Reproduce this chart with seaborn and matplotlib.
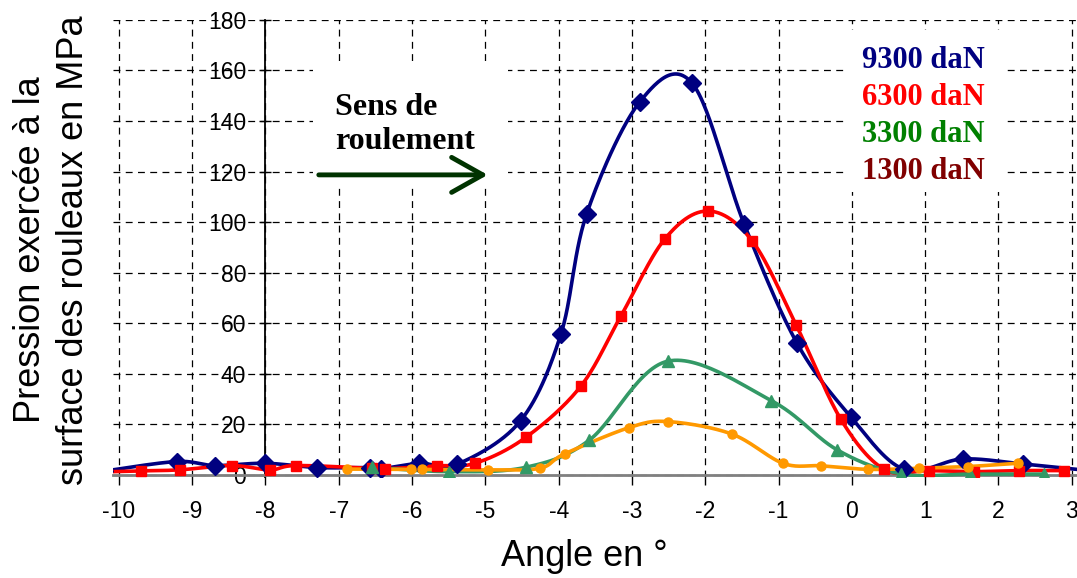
import numpy as np
import pandas as pd
import matplotlib
matplotlib.use("Agg")
import matplotlib.pyplot as plt
from matplotlib.patches import Rectangle
import seaborn as sns

# Pressure on the roller surface vs angle, for four loads
x_9300 = [-10.2, -9.21, -8.69, -8.0, -7.29, -6.58, -6.43, -5.90, -5.38, -4.52, -3.97, -3.62,
          -2.89, -2.18, -1.47, -0.75, -0.01, 0.71, 1.51, 2.34, 3.2]
y_9300 = [1.5, 5.3, 3.7, 4.6, 2.9, 2.9, 2.4, 4.6, 4.3, 21.4, 55.6, 103.1,
          147.7, 155.0, 99.3, 52.2, 22.8, 2.2, 6.3, 4.3, 1.8]

x_6300 = [-10.2, -9.70, -9.17, -8.46, -7.94, -7.58, -6.54, -6.37, -5.66, -5.14, -4.45, -3.70,
          -3.15, -2.55, -1.96, -1.36, -0.76, -0.15, 0.44, 1.05, 1.67, 2.28, 2.90]
y_6300 = [1.2, 1.6, 2.0, 3.7, 2.0, 3.7, 2.6, 2.4, 3.6, 4.6, 14.8, 35.0,
          62.9, 93.4, 104.4, 92.6, 59.3, 22.0, 2.2, 1.7, 1.3, 1.7, 1.7]

x_3300 = [-6.55, -5.50, -4.45, -3.58, -2.51, -1.10, -0.20, 0.67, 1.61, 2.62]
y_3300 = [3.0, 1.3, 3.0, 13.8, 45.0, 29.4, 9.9, 0.4, 0.3, 0.3]

x_1300 = [-6.89, -6.02, -5.86, -4.97, -4.26, -3.92, -3.04, -2.51, -1.64, -0.94, -0.42,
          0.22, 0.92, 1.58, 2.26]
y_1300 = [2.3, 2.2, 2.2, 2.0, 2.6, 8.3, 18.7, 21.1, 16.2, 4.6, 3.6,
          2.2, 2.6, 3.3, 4.6]

loads = ["9300 daN", "6300 daN", "3300 daN", "1300 daN"]
line_colors = ["#000080", "#FF0000", "#339966", "#FF9900"]
label_colors = ["#000080", "#FF0000", "#008000", "#800000"]
markers = ["D", "s", "^", "o"]
marker_sizes = [9, 7.5, 8.5, 6.5]


def smooth(xs, ys, n=30):
    # excel-like smoothed line (bezier through the points)
    pts = np.column_stack([xs, ys])
    out = [pts[0]]
    for i in range(len(pts) - 1):
        p0 = pts[i - 1] if i > 0 else pts[i]
        p1 = pts[i]
        p2 = pts[i + 1]
        p3 = pts[i + 2] if i + 2 < len(pts) else pts[i + 1]
        b1 = p1 + (p2 - p0) / 6
        b2 = p2 - (p3 - p1) / 6
        t = np.linspace(0, 1, n)[1:, None]
        seg = (1 - t) ** 3 * p1 + 3 * (1 - t) ** 2 * t * b1 + 3 * (1 - t) * t ** 2 * b2 + t ** 3 * p2
        out.extend(seg)
    return np.array(out)


sns.set_theme(style="white")
plt.rcParams["font.family"] = ["Liberation Sans", "DejaVu Sans"]
plt.rcParams["axes.unicode_minus"] = False
plt.rcParams["text.color"] = "black"
plt.rcParams["xtick.labelcolor"] = "black"
plt.rcParams["ytick.labelcolor"] = "black"

W, H = 1077, 578
fig = plt.figure(figsize=(W / 100, H / 100), dpi=100)
ax = fig.add_axes([0.1049, 0.174, 0.895, 0.7915])

series = [(x_9300, y_9300), (x_6300, y_6300), (x_3300, y_3300), (x_1300, y_1300)]
for (xs, ys), col, mk, ms in zip(series, line_colors, markers, marker_sizes):
    c = smooth(xs, ys)
    df = pd.DataFrame({"angle": c[:, 0], "pression": c[:, 1]})
    sns.lineplot(data=df, x="angle", y="pression", sort=False, estimator=None,
                 color=col, lw=2.6, ax=ax, legend=False, zorder=3)
    ax.plot(xs, ys, ls="none", marker=mk, ms=ms, color=col, mec=col, zorder=4)

ax.set_xlim(-10.08, 3.07)
ax.set_ylim(-1, 180)
ax.set_xticks(range(-10, 4))
ax.set_yticks(range(0, 181, 20))

ax.grid(True, color="black", lw=0.9, ls=(0, (5.5, 4.3)))
ax.set_axisbelow(True)
for s in ["top", "right"]:
    ax.spines[s].set_visible(False)
ax.spines["left"].set_position(("data", -8))
ax.spines["left"].set_color("black")
ax.spines["left"].set_linewidth(1.3)
ax.spines["bottom"].set_position(("data", 0))
ax.spines["bottom"].set_color("#808080")
ax.spines["bottom"].set_linewidth(2)

ax.tick_params(axis="y", direction="inout", length=8, width=1, color="black",
               labelcolor="black", labelsize=16.5, pad=10, left=True)
ax.tick_params(axis="x", direction="out", length=7, width=1, color="black",
               labelcolor="black", labelsize=16.5, pad=11, bottom=True)
ax.set_xlabel("")
ax.set_ylabel("")

# white boxes behind the annotations (hide the grid there)
for (x0, y0, x1, y1) in [(313, 62, 508, 188), (846, 30, 1006, 192)]:
    ax.add_patch(Rectangle((x0 / W, 1 - y1 / H), (x1 - x0) / W, (y1 - y0) / H,
                           transform=fig.transFigure, facecolor="white",
                           edgecolor="none", zorder=1))

# direction arrow
ax.annotate("", xy=(-4.93, 118.7), xytext=(-7.31, 118.7),
            arrowprops=dict(arrowstyle="->,head_length=0.8,head_width=0.45",
                            color="#003300", lw=3.5, mutation_scale=28), zorder=5)
ax.text(-7.05, 126, "Sens de\nroulement", family="Liberation Serif", weight="bold",
        fontsize=23, color="black", ha="left", va="bottom", linespacing=1.25, zorder=5)

# load labels
for i, (txt, col) in enumerate(zip(loads, label_colors)):
    fig.text(862 / W, 1 - (61 + 36.7 * i) / H, txt, family="Liberation Serif",
             weight="bold", fontsize=22, color=col, ha="left", va="center")

fig.text(52 / W, 1 - 250 / H, "Pression exercée à la\nsurface des rouleaux en MPa",
         rotation=90, ha="center", va="center", fontsize=26, linespacing=1.3, color="black")
fig.text(584 / W, 1 - 557 / H, "Angle en °", ha="center", va="center", fontsize=26,
         color="black")

fig.savefig("out.png", dpi=100)
